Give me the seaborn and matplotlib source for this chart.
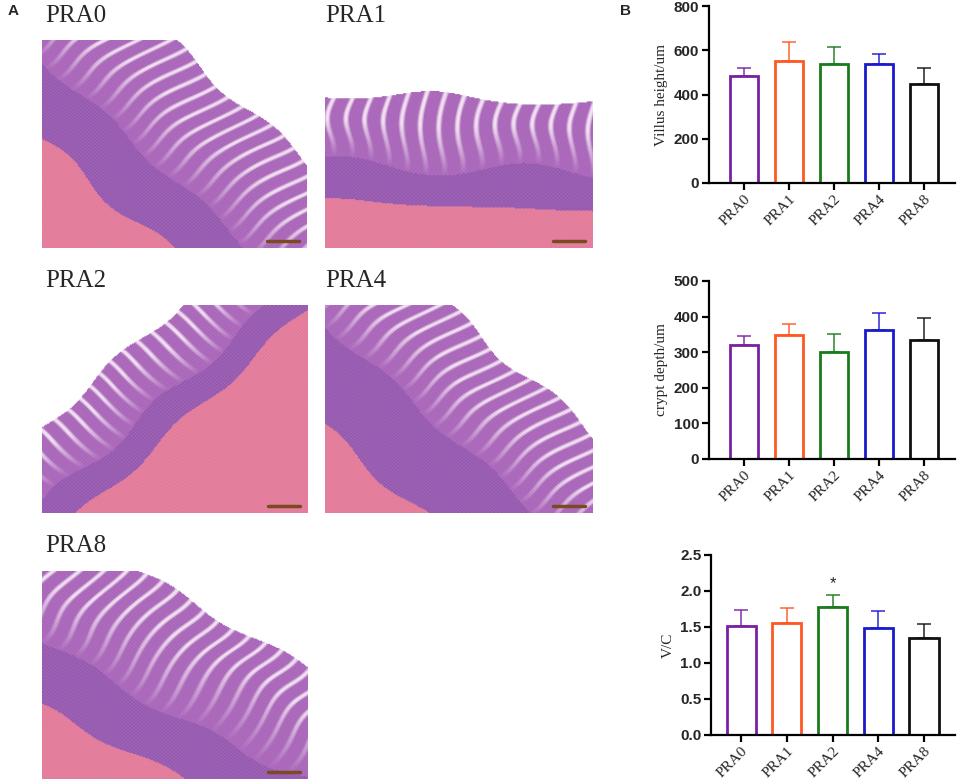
import numpy as np
import pandas as pd
import matplotlib
matplotlib.use("Agg")
import matplotlib.pyplot as plt
import seaborn as sns

# ---------------- data ----------------
groups = ["PRA0", "PRA1", "PRA2", "PRA4", "PRA8"]
villus_mean = [485, 550, 536, 539, 447]
villus_sd = [33, 89, 80, 42, 73]
crypt_mean = [319, 347, 301, 363, 333]
crypt_sd = [26, 31, 49, 47, 64]
vc_mean = [1.51, 1.56, 1.78, 1.49, 1.35]
vc_sd = [0.23, 0.20, 0.17, 0.23, 0.19]
vc_marks = ["", "", "*", "", ""]
colors = ["#7B1FA2", "#FF5722", "#1B7A1B", "#1A1ACD", "#111111"]

panel_labels = ["PRA0", "PRA1", "PRA2", "PRA4", "PRA8"]

sns.set_theme(style="ticks")
plt.rcParams["font.family"] = ["Liberation Sans", "DejaVu Sans"]

W, H = 957, 783
fig = plt.figure(figsize=(W / 100, H / 100), dpi=100)

def fbox(x0, y0, x1, y1):
    return [x0 / W, 1 - y1 / H, (x1 - x0) / W, (y1 - y0) / H]

# ---------------- panel A: tissue-like illustrations ----------------
def tissue(nx, ny, t_pink, t_dark, t_light, phase):
    h, w = 200, 260
    v, u = np.mgrid[0:1:h * 1j, 0:1:w * 1j]   # v grows downward (image rows)
    nrm = np.hypot(nx, ny)
    nx, ny = nx / nrm, ny / nrm
    s = nx * (u - 0.5) + ny * (v - 0.5)
    s = s + 0.04 * np.sin(u * 9 + phase) * np.cos(v * 7 - phase)
    t = -ny * (u - 0.5) + nx * (v - 0.5)
    pink = np.array([0.92, 0.52, 0.64])
    dark = np.array([0.56, 0.33, 0.66])
    light = np.array([0.70, 0.44, 0.76])
    pale = np.array([0.98, 0.92, 0.98])
    white = np.array([1.0, 1.0, 1.0])
    villi = 0.5 + 0.5 * np.sin(t * 90 + phase + 1.5 * np.sin(s * 15))
    grain = 0.5 + 0.5 * np.sin(u * 420 + phase) * np.sin(v * 380 + 1.7 * phase)
    fade = np.clip((s - t_dark) / (t_light - t_dark), 0, 1)
    streak = np.clip((villi - 0.72) / 0.28, 0, 1) * np.clip(fade * 1.6, 0, 1)
    img = np.zeros((h, w, 3))
    for i in range(3):
        vil = light[i] * (1 - streak) + pale[i] * streak
        c = np.where(s < t_pink, pink[i] - 0.05 * grain,
             np.where(s < t_dark, dark[i] + 0.08 * grain,
              np.where(s < t_light, vil - 0.05 * grain, white[i])))
        img[..., i] = c
    return np.clip(img, 0, 1)

img_specs = [
    ((42, 40, 307, 248), (0.75, -0.66, -0.36, -0.12, 0.30, 0.0)),
    ((325, 40, 593, 248), (0.05, -1.0, -0.30, -0.12, 0.22, 1.0)),
    ((42, 305, 308, 513), (-0.75, -0.66, -0.05, 0.08, 0.30, 2.0)),
    ((325, 305, 593, 513), (0.75, -0.66, -0.42, -0.12, 0.28, 3.0)),
    ((42, 571, 308, 779), (0.55, -0.83, -0.42, -0.15, 0.32, 4.0)),
]
label_pos = [(45, 5), (325, 5), (45, 270), (325, 270), (45, 535)]
for (box, spec), lab, (lx, ly) in zip(img_specs, panel_labels, label_pos):
    ax = fig.add_axes(fbox(*box))
    ax.imshow(tissue(*spec), aspect="auto", interpolation="bilinear")
    ax.set_axis_off()
    ax.plot([0.85, 0.97], [0.035, 0.035], transform=ax.transAxes, color="#7A4A20", lw=2.5)
    fig.text(lx / W, 1 - ly / H, lab, family=["Liberation Serif", "DejaVu Serif"],
             fontsize=18, va="top", ha="left")

fig.text(8 / W, 1 - 4 / H, "A", fontsize=11, fontweight="bold", va="top")
fig.text(620 / W, 1 - 4 / H, "B", fontsize=11, fontweight="bold", va="top")

# ---------------- panel B: bar charts ----------------
def barpanel(box, means, sds, ylabel, ymax, step, xlim, marks=None, ticklab_fmt="{:.0f}"):
    ax = fig.add_axes(fbox(*box))
    df = pd.DataFrame({"group": groups, "value": means})
    sns.barplot(data=df, x="group", y="value", hue="group", palette=colors,
                fill=False, linewidth=2, width=0.64, legend=False, ax=ax, errorbar=None)
    for i, (m, s, c) in enumerate(zip(means, sds, colors)):
        ax.errorbar(i, m, yerr=[[0], [s]], color=c, capsize=5, elinewidth=1.2,
                    capthick=1.2, fmt="none", alpha=0.85)
    if marks:
        for i, (m, s, mk) in enumerate(zip(means, sds, marks)):
            if mk:
                ax.text(i, m + s + ymax * 0.02, mk, ha="center", va="bottom", fontsize=12)
    ax.set_ylim(0, ymax)
    ax.set_xlim(*xlim)
    yt = np.arange(0, ymax + step / 2, step)
    ax.set_yticks(yt)
    ax.set_yticklabels([ticklab_fmt.format(v) for v in yt], fontweight="bold", fontsize=11)
    ax.set_xticks(range(len(groups)))
    ax.set_xticklabels(groups, rotation=45, ha="right", rotation_mode="anchor",
                       family=["Liberation Serif", "DejaVu Serif"], fontsize=11)
    ax.set_xlabel("")
    ax.set_ylabel(ylabel, family=["Liberation Serif", "DejaVu Serif"], fontsize=11)
    for sp in ["top", "right"]:
        ax.spines[sp].set_visible(False)
    for sp in ["left", "bottom"]:
        ax.spines[sp].set_linewidth(1.6)
        ax.spines[sp].set_color("black")
    ax.tick_params(axis="both", width=1.6, length=5, color="black", pad=2)
    return ax

barpanel((709, 6, 955, 183), villus_mean, villus_sd, "Villus height/um", 800, 200, (-0.78, 4.69))
barpanel((709, 281, 955, 459), crypt_mean, crypt_sd, "crypt depth/um", 500, 100, (-0.78, 4.69))
barpanel((711, 555, 955, 735), vc_mean, vc_sd, "V/C", 2.5, 0.5, (-0.66, 4.68),
         marks=vc_marks, ticklab_fmt="{:.1f}")

fig.savefig("out.png", dpi=100)
